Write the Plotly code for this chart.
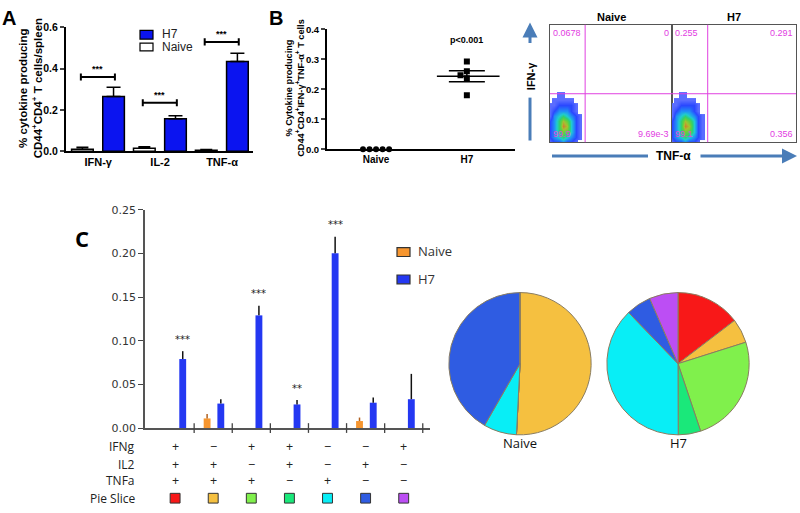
import plotly.graph_objects as go

W, H = 800, 513
def px(x): return x / W
def py(y): return 1 - y / H

ARIAL = "Liberation Sans"
SANS = "DejaVu Sans"
OPEN = "Open Sans"

# ---------------- Panel A data ----------------
a_cats = ["IFN-γ", "IL-2", "TNF-α"]
a_h7 = [0.265, 0.158, 0.435]
a_h7_err = [0.045, 0.014, 0.040]
a_naive = [0.010, 0.015, 0.005]
a_naive_err = [0.009, 0.007, 0.003]
a_sig_y = [0.36, 0.235, 0.53]
a_sig = ["***", "***", "***"]

# ---------------- Panel B data ----------------
b_cats = ["Naive", "H7"]
b_naive = [0.0, 0.0, 0.0, 0.0, 0.0]
b_h7 = [0.293, 0.260, 0.247, 0.237, 0.180]
b_p = "p<0.001"

# ---------------- Flow data ----------------
flow_titles = ["Naive", "H7"]
flow_quads = [["0.0678", "0", "99.9", "9.69e-3"],
              ["0.255", "0.291", "99.1", "0.356"]]  # UL, UR, LL, LR
flow_x = [0.0, 0.035, 0.07, 0.105, 0.14, 0.175, 0.21, 0.245, 0.28]
flow_y = [0.0, 0.045, 0.09, 0.135, 0.18, 0.225, 0.27, 0.315, 0.36, 0.405]
flow_density = [
    [1, 2, 2, 3, 2, 2, 1, None, None],
    [2, 3, 4, 5, 4, 3, 2, 1, None],
    [2, 3, 5, 6, 6, 4, 2, 1, None],
    [2, 3, 5, 8, 7, 4, 2, 1, None],
    [2, 3, 5, 7, 6, 4, 2, 1, None],
    [1, 3, 4, 5, 4, 3, 2, 1, None],
    [1, 2, 3, 3, 3, 2, 1, None, None],
    [1, 1, 2, 2, 2, 2, 1, None, None],
    [None, 1, 1, 1, 1, 1, None, None, None],
    [None, None, 1, 1, None, None, None, None, None],
]

# ---------------- Panel C data ----------------
c_h7 = [0.079, 0.028, 0.129, 0.027, 0.200, 0.029, 0.033]
c_h7_err = [0.009, 0.005, 0.011, 0.005, 0.019, 0.006, 0.029]
c_naive = [0.0, 0.011, 0.0, 0.0, 0.0, 0.008, 0.0]
c_naive_err = [0.0, 0.005, 0.0, 0.0, 0.0, 0.004, 0.0]
c_sig = ["***", "", "***", "**", "***", "", ""]
ifng = ["+", "−", "+", "+", "−", "−", "+"]
il2 = ["+", "+", "−", "+", "−", "+", "−"]
tnfa = ["+", "+", "+", "−", "+", "−", "−"]
slice_colors = ["#f81818", "#f5c040", "#80f04c", "#1ae87a", "#08eef6", "#2f5ce2", "#bc4ef4"]
pie_naive = [0.0, 50.8, 0.0, 0.0, 7.5, 41.7, 0.0]
pie_h7 = [14.6, 5.5, 24.7, 5.1, 37.8, 5.7, 6.5]
pie_names = ["Naive", "H7"]

BLUE_A = "#0b14f0"
BLUE_C = "#2438f2"
ORANGE_C = "#f7962f"

fig = go.Figure()
ann = []
shapes = []

def text(t, x, y, size=12, color="black", family=ARIAL, xanchor="center", yanchor="middle", angle=0, xref="paper", yref="paper"):
    ann.append(dict(text=t, x=x, y=y, xref=xref, yref=yref, showarrow=False,
                    font=dict(size=size, color=color, family=family),
                    xanchor=xanchor, yanchor=yanchor, textangle=angle))

# ================= Panel A =================
na = list(range(len(a_cats)))
fig.add_trace(go.Bar(x=na, y=a_naive, offset=-0.43, width=0.35, xaxis="x", yaxis="y",
                     marker=dict(color="white", line=dict(color="black", width=1.5)),
                     error_y=dict(type="data", symmetric=False, array=a_naive_err,
                                  arrayminus=[0] * 3, color="black", thickness=1.5, width=6),
                     showlegend=False))
fig.add_trace(go.Bar(x=na, y=a_h7, offset=0.073, width=0.35, xaxis="x", yaxis="y",
                     marker=dict(color=BLUE_A, line=dict(color="black", width=1.5)),
                     error_y=dict(type="data", symmetric=False, array=a_h7_err,
                                  arrayminus=[0] * 3, color="black", thickness=1.5, width=7),
                     showlegend=False))
for i, (yv, s) in enumerate(zip(a_sig_y, a_sig)):
    x0, x1 = i - 0.28, i + 0.27
    fig.add_trace(go.Scatter(x=[x0, x0, None, x0, x1, None, x1, x1],
                             y=[yv - 0.017, yv + 0.017, None, yv, yv, None, yv - 0.017, yv + 0.017],
                             mode="lines", line=dict(color="black", width=2),
                             xaxis="x", yaxis="y", showlegend=False, hoverinfo="skip"))
    text("<b>" + s + "</b>", (x0 + x1) / 2, yv + 0.005, size=9, xref="x", yref="y", yanchor="bottom")

# legend A
shapes.append(dict(type="rect", xref="paper", yref="paper", x0=px(140), x1=px(153), y0=py(34), y1=py(25),
                   fillcolor=BLUE_A, line=dict(color="black", width=1.2)))
shapes.append(dict(type="rect", xref="paper", yref="paper", x0=px(140), x1=px(153), y0=py(46), y1=py(38),
                   fillcolor="white", line=dict(color="black", width=1.2)))
text("H7", px(160), py(29), size=12, color="#222", xanchor="left")
text("Naive", px(160), py(42), size=12, color="#222", xanchor="left")
text("<b>% cytokine producing<br>CD44<sup>+</sup>CD4<sup>+</sup> T cells/spleen</b>", px(30.5), py(85),
     size=11.5, angle=-90)
text("<b>A</b>", px(9), py(12), size=20)

# ================= Panel B =================
nb_off = [(k - 2) * 0.072 for k in range(len(b_naive))]
fig.add_trace(go.Scatter(x=[0 + o for o in nb_off], y=b_naive, mode="markers",
                         marker=dict(symbol="circle", size=6, color="black"),
                         xaxis="x2", yaxis="y2", showlegend=False, cliponaxis=False))
hb_off = [0, 0, -0.07, 0, 0]
fig.add_trace(go.Scatter(x=[1 + o for o in hb_off], y=b_h7, mode="markers",
                         marker=dict(symbol="square", size=6, color="black"),
                         xaxis="x2", yaxis="y2", showlegend=False))
mean_h7 = sum(b_h7) / len(b_h7)
sd = (sum((v - mean_h7) ** 2 for v in b_h7) / (len(b_h7) - 1)) ** 0.5
sem = sd / len(b_h7) ** 0.5
fig.add_trace(go.Scatter(x=[1 - 0.33, 1 + 0.36], y=[mean_h7, mean_h7], mode="lines",
                         line=dict(color="black", width=1.5), xaxis="x2", yaxis="y2", showlegend=False))
fig.add_trace(go.Scatter(x=[1], y=[mean_h7], mode="markers", marker=dict(size=1, color="rgba(0,0,0,0)"),
                         error_y=dict(type="data", array=[sem], color="black", thickness=1.5, width=18),
                         xaxis="x2", yaxis="y2", showlegend=False))
text("<b>" + b_p + "</b>", 1, 0.364, size=9, xref="x2", yref="y2")
text("<b>% Cytokine producing<br>CD44<sup>+</sup>CD4<sup>+</sup>IFN-γ<sup>+</sup>TNF-α<sup>+</sup> T cells</b>",
     px(295), py(84), size=9.2, angle=-90)
text("<b>B</b>", px(276), py(12), size=20)

# ================= Flow plots =================
flow_colorscale = [[0, "#5a6cff"], [0.125, "#2a48ff"], [0.25, "#2090f5"], [0.375, "#20ccd0"],
                   [0.5, "#30d070"], [0.625, "#60d040"], [0.75, "#a8c030"], [0.875, "#d08030"],
                   [1.0, "#d03020"]]
for k, (xa, ya) in enumerate([("x3", "y3"), ("x4", "y4")]):
    fig.add_trace(go.Heatmap(x=flow_x, y=flow_y, z=flow_density, colorscale=flow_colorscale,
                             zmin=1, zmax=9, showscale=False, xaxis=xa, yaxis=ya, hoverinfo="skip",
                             zsmooth="best"))
    qx = 0.288
    qy = 0.413
    shapes.append(dict(type="line", xref=xa, yref=ya, x0=qx, x1=qx, y0=0, y1=1,
                       line=dict(color="#e040e0", width=1)))
    shapes.append(dict(type="line", xref=xa, yref=ya, x0=0, x1=1, y0=qy, y1=qy,
                       line=dict(color="#e040e0", width=1)))
    q = flow_quads[k]
    mag = "#e23ce2"
    text(q[0], 0.01, 0.985, size=9, color=mag, xanchor="left", yanchor="top", xref=xa, yref=ya)
    text(q[1], 0.99, 0.985, size=9, color=mag, xanchor="right", yanchor="top", xref=xa, yref=ya)
    text(q[2], 0.01, 0.015, size=9, color=mag, xanchor="left", yanchor="bottom", xref=xa, yref=ya)
    text(q[3], 0.99, 0.015, size=9, color=mag, xanchor="right", yanchor="bottom", xref=xa, yref=ya)
    text("<b>" + flow_titles[k] + "</b>", 0.5, 1.0, size=11, xanchor="center", yanchor="bottom",
         xref=xa + " domain", yref=ya + " domain")

ARROW = "#4a7db8"
# vertical IFN-γ arrow
ann.append(dict(x=px(530), y=py(17), ax=0, ay=22, xref="paper", yref="paper", showarrow=True,
                arrowhead=2, arrowsize=1, arrowwidth=3, arrowcolor=ARROW, text=""))
shapes.append(dict(type="line", xref="paper", yref="paper", x0=px(530), x1=px(530), y0=py(94), y1=py(138),
                   line=dict(color=ARROW, width=3)))
text("<b>IFN-γ</b>", px(531), py(72), size=11, angle=-90)
# horizontal TNF-α arrow
shapes.append(dict(type="line", xref="paper", yref="paper", x0=px(552), x1=px(648), y0=py(154), y1=py(154),
                   line=dict(color=ARROW, width=3)))
ann.append(dict(x=px(797), y=py(154), ax=-98, ay=0, xref="paper", yref="paper", showarrow=True,
                arrowhead=2, arrowsize=1, arrowwidth=3, arrowcolor=ARROW, text=""))
text("<b>TNF-α</b>", px(673), py(154), size=12)

# ================= Panel C =================
nc = list(range(len(c_h7)))
fig.add_trace(go.Bar(x=nc, y=c_naive, offset=-0.25, width=0.18, xaxis="x5", yaxis="y5",
                     marker=dict(color=ORANGE_C, line=dict(width=0)),
                     error_y=dict(type="data", symmetric=False, array=c_naive_err, arrayminus=[0] * 7,
                                  color="#b06020", thickness=1.5, width=0),
                     showlegend=False))
fig.add_trace(go.Bar(x=nc, y=c_h7, offset=0.11, width=0.18, xaxis="x5", yaxis="y5",
                     marker=dict(color=BLUE_C, line=dict(width=0)),
                     error_y=dict(type="data", symmetric=False, array=c_h7_err, arrayminus=[0] * 7,
                                  color="#111", thickness=1.5, width=0),
                     showlegend=False))
for i, s in enumerate(c_sig):
    if s:
        text(s, i + 0.2, c_h7[i] + c_h7_err[i] + 0.005, size=10, color="#222", family=SANS,
             xref="x5", yref="y5", yanchor="bottom")
for i in nc:
    shapes.append(dict(type="line", xref="x5", yref="paper", x0=i + 0.5, x1=i + 0.5,
                       y0=py(438), y1=py(428), line=dict(color="#444", width=1.3)))
# legend C
shapes.append(dict(type="rect", xref="paper", yref="paper", x0=px(397), x1=px(410), y0=py(257), y1=py(248),
                   fillcolor=ORANGE_C, line=dict(color="#333", width=1.2)))
shapes.append(dict(type="rect", xref="paper", yref="paper", x0=px(397), x1=px(410), y0=py(285), y1=py(276),
                   fillcolor=BLUE_C, line=dict(color="#333", width=1.2)))
text("Naive", px(416), py(251), size=13, color="#333", family=OPEN, xanchor="left")
text("H7", px(416), py(280), size=13, color="#333", family=OPEN, xanchor="left")
text("<b>C</b>", px(82), py(238), size=22, family=OPEN)

# table
rows = [("IFNg", ifng, 452), ("IL2", il2, 470), ("TNFa", tnfa, 487)]
for lab, vals, yy in rows:
    text(lab, px(137), py(yy), size=12, color="#222", family=OPEN, xanchor="right")
    for i, v in enumerate(vals):
        text(v, i, py(yy), size=12.5, color="#222", family=OPEN, xref="x5")
text("Pie Slice", px(137), py(505), size=12, color="#222", family=OPEN, xanchor="right")
for i, c in enumerate(slice_colors):
    shapes.append(dict(type="rect", xref="x5", yref="paper", x0=i - 0.13, x1=i + 0.13,
                       y0=py(510), y1=py(500), fillcolor=c, line=dict(color="#333", width=1)))

# ================= Pies =================
pie_doms = [(447, 593), (605, 751)]
for vals, (x0, x1), name in zip([pie_naive, pie_h7], pie_doms, pie_names):
    fig.add_trace(go.Pie(values=vals, labels=[f"s{i}" for i in range(len(vals))], sort=False,
                         direction="clockwise", rotation=0,
                         marker=dict(colors=slice_colors, line=dict(color="#8a7d60", width=1)),
                         textinfo="none", hoverinfo="skip", showlegend=False,
                         domain=dict(x=[px(x0), px(x1)], y=[py(440), py(294)])))
    text(name, px((x0 + x1) / 2), py(448), size=13, color="#111", family=OPEN)

# ================= Layout =================
ax_common = dict(showgrid=False, zeroline=False)
layout = dict(
    width=W, height=H, margin=dict(l=0, r=0, t=0, b=0),
    paper_bgcolor="white", plot_bgcolor="white", barmode="overlay",
    xaxis=dict(domain=[px(66), px(253)], range=[-0.52, 2.5], tickvals=na, ticktext=["<b>%s</b>" % c for c in a_cats],
               showline=True, linecolor="black", linewidth=2, ticks="", tickfont=dict(size=11, family=ARIAL, color="black"),
               anchor="y", **ax_common),
    yaxis=dict(domain=[py(149), py(22)], range=[0, 0.6], tickvals=[0, 0.2, 0.4, 0.6],
               ticktext=["<b>0.0</b>", "<b>0.2</b>", "<b>0.4</b>", "<b>0.6</b>"],
               showline=True, linecolor="black", linewidth=2, ticks="outside", ticklen=4, tickwidth=2,
               tickfont=dict(size=10.5, family=ARIAL, color="black"), anchor="x", **ax_common),
    xaxis2=dict(domain=[px(327), px(515)], range=[-0.54, 1.53], tickvals=[0, 1],
                ticktext=["<b>%s</b>" % c for c in b_cats], showline=True, linecolor="black", linewidth=2,
                ticks="", tickfont=dict(size=10, family=ARIAL, color="black"), anchor="y2", **ax_common),
    yaxis2=dict(domain=[py(147), py(24)], range=[0, 0.4], tickvals=[0, 0.1, 0.2, 0.3, 0.4],
                ticktext=["<b>0.0</b>", "<b>0.1</b>", "<b>0.2</b>", "<b>0.3</b>", "<b>0.4</b>"],
                showline=True, linecolor="black", linewidth=2, ticks="outside", ticklen=4, tickwidth=1.5,
                tickfont=dict(size=9.5, family=ARIAL, color="black"), anchor="x2", **ax_common),
    xaxis3=dict(domain=[px(550), px(672)], range=[0, 1], showline=True, mirror=True, linecolor="#555",
                linewidth=1, showticklabels=False, ticks="", anchor="y3", **ax_common),
    yaxis3=dict(domain=[py(140), py(19)], range=[0, 1], showline=True, mirror=True, linecolor="#555",
                linewidth=1, showticklabels=False, ticks="", anchor="x3", **ax_common),
    xaxis4=dict(domain=[px(672), px(796)], range=[0, 1], showline=True, mirror=True, linecolor="#555",
                linewidth=1, showticklabels=False, ticks="", anchor="y4", **ax_common),
    yaxis4=dict(domain=[py(140), py(19)], range=[0, 1], showline=True, mirror=True, linecolor="#555",
                linewidth=1, showticklabels=False, ticks="", anchor="x4", **ax_common),
    xaxis5=dict(domain=[px(145), px(430)], range=[-0.79, 6.69], showline=True, linecolor="#555",
                linewidth=1.5, showticklabels=False, ticks="", anchor="y5", **ax_common),
    yaxis5=dict(domain=[py(433), py(209)], range=[0, 0.25], tickvals=[0, 0.05, 0.10, 0.15, 0.20, 0.25],
                ticktext=["0.00", "0.05", "0.10", "0.15", "0.20", "0.25"],
                showline=True, linecolor="#555", linewidth=1.5, ticks="outside", ticklen=5, tickwidth=1.3,
                tickcolor="#444", tickfont=dict(size=11, family=SANS, color="#333"), anchor="x5", **ax_common),
    annotations=ann, shapes=shapes,
)
fig.update_layout(**layout)
fig.write_html("out.html", config={"displayModeBar": False},
               post_script="document.body.style.margin='0';document.body.style.overflow='hidden';")
